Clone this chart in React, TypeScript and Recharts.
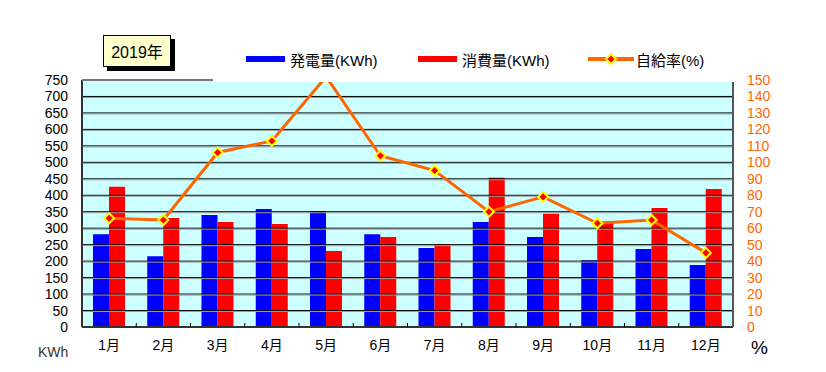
import React from 'react';
import { ComposedChart, Bar, Line, XAxis, YAxis, CartesianGrid, ReferenceLine } from 'recharts';

const months = ['1月', '2月', '3月', '4月', '5月', '6月', '7月', '8月', '9月', '10月', '11月', '12月'];
const generated = [282, 215, 340, 358, 352, 282, 240, 319, 273, 203, 237, 188];
const consumed = [426, 331, 319, 313, 231, 273, 252, 453, 344, 320, 361, 419];
const selfRate = [66, 65, 106, 113, 152, 104, 95, 70, 79, 63, 65, 45];
const kwhTicks = [0, 50, 100, 150, 200, 250, 300, 350, 400, 450, 500, 550, 600, 650, 700, 750];
const rateTicks = [0, 10, 20, 30, 40, 50, 60, 70, 80, 90, 100, 110, 120, 130, 140, 150];

const data = months.map((m, i) => ({
  month: m,
  gen: generated[i],
  use: consumed[i],
  rate: selfRate[i],
}));

const FONT = '"Liberation Sans", "Noto Sans CJK JP", sans-serif';
const ORANGE = '#FF6600';
const HALF_BAND = 651 / 24;

const Diamond = (props: any) => {
  const { cx, cy } = props;
  if (cx == null || cy == null) return null;
  const r = 5;
  return (
    <path
      d={`M${cx},${cy - r} L${cx + r},${cy} L${cx},${cy + r} L${cx - r},${cy} Z`}
      fill="#FF0000"
      stroke="#FFFF00"
      strokeWidth={2}
    />
  );
};

const GridLine = (props: any) => {
  const { x1, y1, x2, y2 } = props;
  if (x1 == null) return null;
  return (
    <g>
      <line x1={x1} y1={y1} x2={x2} y2={y2} stroke="#000" strokeWidth={1} />
      <line x1={x1} y1={y1 + 1} x2={x2} y2={y2 + 1} stroke="#999" strokeWidth={1} />
    </g>
  );
};

// month label plus the little divider tick at the right edge of each band
const MonthTick = (props: any) => {
  const { x, y, payload, index } = props;
  const axisY = y - 13;
  return (
    <g>
      {index < 11 && (
        <line x1={x + HALF_BAND} y1={axisY} x2={x + HALF_BAND} y2={axisY - 4} stroke="#000" strokeWidth={1} />
      )}
      <text x={x} y={y} dy="0.71em" textAnchor="middle" fill="#000" fontSize={14} fontFamily={FONT}>
        {payload.value}
      </text>
    </g>
  );
};

export default function App() {
  return (
    <div style={{ position: 'absolute', left: 0, top: 0, width: 826, height: 372, background: '#fff', fontFamily: FONT }}>
      <ComposedChart
        width={826}
        height={372}
        data={data}
        margin={{ top: 80, right: 33, left: 22, bottom: 15 }}
        barGap={0}
      >
        <CartesianGrid horizontal={false} vertical={false} fill="#CCFFFF" />
        {kwhTicks.slice(1, -1).map((v) => (
          <ReferenceLine key={v} yAxisId="kwh" y={v} shape={GridLine} />
        ))}
        <XAxis
          dataKey="month"
          height={30}
          tickLine={false}
          tickSize={0}
          tickMargin={13}
          axisLine={{ stroke: '#333', strokeWidth: 2 }}
          tick={<MonthTick />}
        />
        <YAxis
          yAxisId="kwh"
          width={60}
          domain={[0, 750]}
          ticks={kwhTicks}
          interval={0}
          tickLine={false}
          tickSize={0}
          tickMargin={14}
          axisLine={{ stroke: '#333', strokeWidth: 2 }}
          tick={{ fill: '#000', fontSize: 14, fontFamily: FONT }}
        />
        <YAxis
          yAxisId="rate"
          orientation="right"
          width={60}
          domain={[0, 150]}
          allowDataOverflow
          ticks={rateTicks}
          interval={0}
          tickLine={false}
          tickSize={0}
          tickMargin={14}
          axisLine={{ stroke: '#555', strokeWidth: 2 }}
          tick={{ fill: ORANGE, fontSize: 14, fontFamily: FONT, textAnchor: 'start' }}
        />
        <Bar yAxisId="kwh" dataKey="gen" fill="#0000FF" barSize={16} isAnimationActive={false} />
        <Bar yAxisId="kwh" dataKey="use" fill="#FF0000" barSize={16} isAnimationActive={false} />
        <Line
          yAxisId="rate"
          dataKey="rate"
          stroke={ORANGE}
          strokeWidth={3}
          dot={<Diamond />}
          activeDot={false}
          type="linear"
          isAnimationActive={false}
        />
      </ComposedChart>

      {/* top border of the plot, only visible left of the legend strip */}
      <div style={{ position: 'absolute', left: 82, top: 79, width: 131, height: 2, background: '#777' }} />

      {/* legend strip, white backed like the original */}
      <div style={{ position: 'absolute', left: 213, top: 40, width: 521, height: 42, background: '#fff' }}>
        <div style={{ position: 'absolute', left: 33, top: 16, width: 39, height: 6, background: '#0000FF' }} />
        <div style={{ position: 'absolute', left: 77, top: 9, fontSize: 15, color: '#000' }}>発電量(KWh)</div>
        <div style={{ position: 'absolute', left: 205, top: 16, width: 39, height: 6, background: '#FF0000' }} />
        <div style={{ position: 'absolute', left: 249, top: 9, fontSize: 15, color: '#000' }}>消費量(KWh)</div>
        <svg style={{ position: 'absolute', left: 375, top: 12 }} width={46} height={14}>
          <line x1={1} y1={7} x2={45} y2={7} stroke={ORANGE} strokeWidth={4} strokeLinecap="round" />
          <Diamond cx={23} cy={7} />
        </svg>
        <div style={{ position: 'absolute', left: 423, top: 9, fontSize: 15, color: '#000' }}>自給率(%)</div>
      </div>

      {/* year badge */}
      <div style={{ position: 'absolute', left: 107, top: 39, width: 68, height: 32, background: '#000' }} />
      <div
        style={{
          position: 'absolute', left: 103, top: 35, width: 66, height: 30,
          background: '#FFFFCC', border: '1px solid #000', fontSize: 16,
          display: 'flex', alignItems: 'center', justifyContent: 'center', color: '#000',
        }}
      >
        2019年
      </div>

      <div style={{ position: 'absolute', left: 38, top: 344, fontSize: 14, color: '#333' }}>KWh</div>
      <div style={{ position: 'absolute', left: 751, top: 337, fontSize: 19, color: '#000' }}>%</div>
    </div>
  );
}
